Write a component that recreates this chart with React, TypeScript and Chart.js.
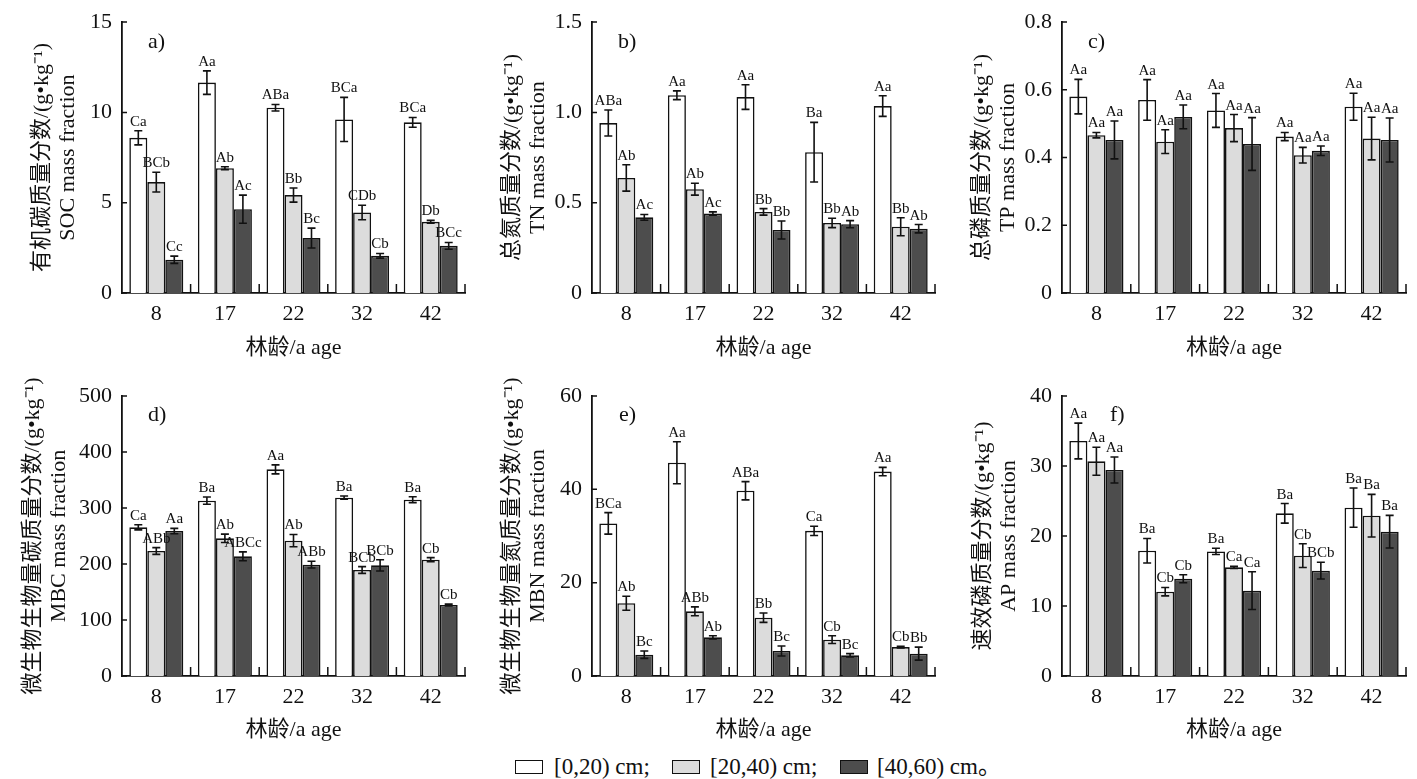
import { useEffect, useRef } from 'react'
import { Chart, BarController, BarElement, CategoryScale, LinearScale } from 'chart.js'

Chart.register(BarController, BarElement, CategoryScale, LinearScale);

const FONT = '"Liberation Serif", "Noto Sans CJK SC", serif';
const INK = '#111111';

const AGES = ['8', '17', '22', '32', '42'];
const DEPTHS = ['[0,20) cm;', '[20,40) cm;', '[40,60) cm。'];
const FILLS = ['#ffffff', '#dcdcdc', '#4d4d4d'];

// a) SOC
const SOC_MEAN = [
  [8.59, 11.65, 10.26, 9.61, 9.45],
  [6.14, 6.91, 5.42, 4.46, 3.94],
  [1.84, 4.64, 3.04, 2.06, 2.61],
];
const SOC_ERR = [
  [0.39, 0.65, 0.18, 1.22, 0.27],
  [0.55, 0.08, 0.39, 0.4, 0.08],
  [0.2, 0.78, 0.55, 0.13, 0.19],
];
const SOC_LETTERS = [
  ['Ca', 'Aa', 'ABa', 'BCa', 'BCa'],
  ['BCb', 'Ab', 'Bb', 'CDb', 'Db'],
  ['Cc', 'Ac', 'Bc', 'Cb', 'BCc'],
];
const SOC_TICKS = ['0', '5', '10', '15'];

// b) TN
const TN_MEAN = [
  [0.941, 1.095, 1.085, 0.78, 1.035],
  [0.637, 0.575, 0.449, 0.388, 0.367],
  [0.419, 0.44, 0.349, 0.381, 0.356],
];
const TN_ERR = [
  [0.072, 0.024, 0.068, 0.165, 0.057],
  [0.073, 0.033, 0.018, 0.026, 0.05],
  [0.016, 0.009, 0.05, 0.02, 0.023],
];
const TN_LETTERS = [
  ['ABa', 'Aa', 'Aa', 'Ba', 'Aa'],
  ['Ab', 'Ab', 'Bb', 'Bb', 'Bb'],
  ['Ac', 'Ac', 'Bb', 'Ab', 'Ab'],
];
const TN_TICKS = ['0', '0.5', '1.0', '1.5'];

// c) TP
const TP_MEAN = [
  [0.58, 0.57, 0.539, 0.462, 0.55],
  [0.466, 0.447, 0.487, 0.407, 0.456],
  [0.452, 0.52, 0.44, 0.42, 0.452],
];
const TP_ERR = [
  [0.051, 0.06, 0.05, 0.012, 0.04],
  [0.008, 0.035, 0.04, 0.023, 0.063],
  [0.056, 0.035, 0.078, 0.014, 0.065],
];
const TP_LETTERS = [
  ['Aa', 'Aa', 'Aa', 'Aa', 'Aa'],
  ['Aa', 'Aa', 'Aa', 'Aa', 'Aa'],
  ['Aa', 'Aa', 'Aa', 'Aa', 'Aa'],
];
const TP_TICKS = ['0', '0.2', '0.4', '0.6', '0.8'];

// d) MBC
const MBC_MEAN = [
  [265.5, 313.1, 369, 318.5, 314.9],
  [223.2, 245.8, 241.7, 189.3, 207.7],
  [258.9, 213.7, 198.8, 197.6, 126.8],
];
const MBC_ERR = [
  [4.5, 6.5, 8, 3, 5.3],
  [6, 7.5, 11, 6, 3.6],
  [4.8, 8, 6, 10, 1.5],
];
const MBC_LETTERS = [
  ['Ca', 'Ba', 'Aa', 'Ba', 'Ba'],
  ['ABb', 'Ab', 'Ab', 'BCb', 'Cb'],
  ['Aa', 'ABCc', 'ABb', 'BCb', 'Cb'],
];
const MBC_TICKS = ['0', '100', '200', '300', '400', '500'];

// e) MBN
const MBN_MEAN = [
  [32.7, 45.7, 39.7, 31.1, 43.8],
  [15.6, 13.86, 12.5, 7.79, 6.2],
  [4.57, 8.29, 5.36, 4.43, 4.79],
];
const MBN_ERR = [
  [2.3, 4.5, 1.95, 1.0, 0.9],
  [1.5, 0.95, 1.0, 0.82, 0.18],
  [0.8, 0.35, 1.07, 0.36, 1.39],
];
const MBN_LETTERS = [
  ['BCa', 'Aa', 'ABa', 'Ca', 'Aa'],
  ['Ab', 'ABb', 'Bb', 'Cb', 'Cb'],
  ['Bc', 'Ab', 'Bc', 'Bc', 'Bb'],
];
const MBN_TICKS = ['0', '20', '40', '60'];

// f) AP
const AP_MEAN = [
  [33.57, 17.9, 17.8, 23.24, 24.05],
  [30.67, 12.05, 15.52, 17.19, 22.9],
  [29.43, 13.9, 12.19, 15.05, 20.62],
];
const AP_ERR = [
  [2.55, 1.75, 0.45, 1.4, 2.8],
  [2.0, 0.6, 0.15, 1.7, 3.05],
  [1.86, 0.57, 2.7, 1.2, 2.33],
];
const AP_LETTERS = [
  ['Aa', 'Ba', 'Ba', 'Ba', 'Ba'],
  ['Aa', 'Cb', 'Ca', 'Cb', 'Ba'],
  ['Aa', 'Cb', 'Ca', 'BCb', 'Ba'],
];
const AP_TICKS = ['0', '10', '20', '30', '40'];

interface PanelSpec {
  tag: string;
  yTitle: string[];
  mean: number[][];
  err: number[][];
  letters: string[][];
  ticks: string[];
  max: number;
  step: number;
  x: number;
  y: number;
  w: number;
  h: number;
  padTop: number;
  padRight: number;
  yTitlePad: number;
  xTitlePad: number;
  tagDx: number;
  tagDy: number;
}

const TOP = { y: 0, h: 365, padTop: 13, xTitlePad: 4, tagDy: 20 };
const BOTTOM = { y: 340, h: 408, padTop: 56, xTitlePad: 5, tagDy: 19 };

const PANELS: PanelSpec[] = [
  { ...TOP, tag: 'a)', yTitle: ['有机碳质量分数/(g•kg⁻¹)', 'SOC mass fraction'], mean: SOC_MEAN, err: SOC_ERR, letters: SOC_LETTERS, ticks: SOC_TICKS, max: 15, step: 5, x: 0, w: 470, padRight: 5, yTitlePad: 29, tagDx: 26 },
  { ...TOP, tag: 'b)', yTitle: ['总氮质量分数/(g•kg⁻¹)', 'TN mass fraction'], mean: TN_MEAN, err: TN_ERR, letters: TN_LETTERS, ticks: TN_TICKS, max: 1.5, step: 0.5, x: 470, w: 470, padRight: 5, yTitlePad: 29, tagDx: 26 },
  { ...TOP, tag: 'c)', yTitle: ['总磷质量分数/(g•kg⁻¹)', 'TP mass fraction'], mean: TP_MEAN, err: TP_ERR, letters: TP_LETTERS, ticks: TP_TICKS, max: 0.8, step: 0.2, x: 940, w: 477, padRight: 11, yTitlePad: 29, tagDx: 26 },
  { ...BOTTOM, tag: 'd)', yTitle: ['微生物生物量碳质量分数/(g•kg⁻¹)', 'MBC mass fraction'], mean: MBC_MEAN, err: MBC_ERR, letters: MBC_LETTERS, ticks: MBC_TICKS, max: 500, step: 100, x: 0, w: 470, padRight: 5, yTitlePad: 20, tagDx: 26 },
  { ...BOTTOM, tag: 'e)', yTitle: ['微生物生物量氮质量分数/(g•kg⁻¹)', 'MBN mass fraction'], mean: MBN_MEAN, err: MBN_ERR, letters: MBN_LETTERS, ticks: MBN_TICKS, max: 60, step: 20, x: 470, w: 470, padRight: 5, yTitlePad: 29, tagDx: 27 },
  { ...BOTTOM, tag: 'f)', yTitle: ['速效磷质量分数/(g•kg⁻¹)', 'AP mass fraction'], mean: AP_MEAN, err: AP_ERR, letters: AP_LETTERS, ticks: AP_TICKS, max: 40, step: 10, x: 940, w: 477, padRight: 11, yTitlePad: 30, tagDx: 48 },
];

function BarPanel({ p }: { p: PanelSpec }) {
  const ref = useRef<HTMLCanvasElement>(null);

  useEffect(() => {
    if (!ref.current) return;

    // error bars + significance letters
    const marks = {
      id: 'marks',
      afterDatasetsDraw(chart: Chart) {
        const { ctx } = chart;
        const ys = chart.scales.y;
        ctx.save();
        ctx.strokeStyle = INK;
        ctx.fillStyle = INK;
        ctx.lineWidth = 1.6;
        ctx.font = `15px ${FONT}`;
        ctx.textAlign = 'center';
        ctx.textBaseline = 'alphabetic';
        chart.data.datasets.forEach((ds: any, i) => {
          chart.getDatasetMeta(i).data.forEach((bar: any, j) => {
            const v = ds.data[j] as number;
            const e = ds.errors[j] as number;
            const hi = ys.getPixelForValue(v + e);
            const lo = ys.getPixelForValue(v - e);
            ctx.beginPath();
            ctx.moveTo(bar.x, hi); ctx.lineTo(bar.x, lo);
            ctx.moveTo(bar.x - 4, hi); ctx.lineTo(bar.x + 4, hi);
            ctx.moveTo(bar.x - 4, lo); ctx.lineTo(bar.x + 4, lo);
            ctx.stroke();
            ctx.fillText(ds.letters[j], bar.x, hi - 5);
          });
        });
        ctx.restore();
      },
      afterDraw(chart: Chart) {
        const { ctx, chartArea } = chart;
        const { left, right, top, bottom } = chartArea;
        const ys = chart.scales.y;
        ctx.save();
        ctx.strokeStyle = INK;
        ctx.lineWidth = 1.5;
        ctx.beginPath();
        ys.ticks.forEach((t) => {
          const y = ys.getPixelForValue(t.value);
          ctx.moveTo(left, y); ctx.lineTo(left + 5, y);
        });
        const n = AGES.length;
        const w = (right - left) / n;
        for (let i = 1; i <= n; i++) {
          const x = left + i * w;
          ctx.moveTo(x, bottom); ctx.lineTo(x, bottom - 9);
        }
        ctx.stroke();
        ctx.fillStyle = INK;
        ctx.font = `22px ${FONT}`;
        ctx.textAlign = 'left';
        ctx.textBaseline = 'middle';
        ctx.fillText(p.tag, left + p.tagDx, top + p.tagDy);
        ctx.restore();
      },
    };

    const chart = new Chart(ref.current, {
      type: 'bar',
      data: {
        labels: AGES,
        datasets: p.mean.map((m, i) => ({
          label: DEPTHS[i],
          data: m,
          errors: p.err[i],
          letters: p.letters[i],
          backgroundColor: FILLS[i],
          borderColor: INK,
          borderWidth: 1.6,
          categoryPercentage: 0.787,
          barPercentage: 1,
        })) as any,
      },
      options: {
        animation: false,
        responsive: false,
        events: [],
        layout: { padding: { left: 0, right: p.padRight, top: p.padTop, bottom: 0 } },
        plugins: { legend: { display: false }, tooltip: { enabled: false } },
        scales: {
          x: {
            offset: true,
            z: 1,
            grid: { display: false, drawTicks: false },
            border: { display: true, color: INK, width: 1.8 },
            ticks: { color: INK, font: { family: FONT, size: 22, lineHeight: 1.1 }, padding: 9, maxRotation: 0, autoSkip: false },
            title: { display: true, text: '林龄/a age', color: INK, font: { family: FONT, size: 22, lineHeight: 1.2 }, padding: { top: 0, bottom: p.xTitlePad } },
            afterFit: (s: any) => { s.height = 72; },
          },
          y: {
            min: 0,
            max: p.max,
            z: 1,
            grid: { display: false, drawTicks: false },
            border: { display: true, color: INK, width: 1.8 },
            ticks: {
              stepSize: p.step,
              color: INK,
              padding: 10,
              font: { family: FONT, size: 22, lineHeight: 1.1 },
              callback: (_v: any, i: number) => p.ticks[i] ?? '',
            },
            title: { display: true, text: p.yTitle, color: INK, font: { family: FONT, size: 22, lineHeight: 26 / 22 }, padding: { top: p.yTitlePad, bottom: 0 } },
            afterFit: (s: any) => { s.width = 122; },
          },
        },
      },
      plugins: [marks],
    });

    return () => chart.destroy();
  }, [p]);

  return (
    <canvas
      ref={ref}
      width={p.w}
      height={p.h}
      style={{ position: 'absolute', left: p.x, top: p.y, width: p.w, height: p.h }}
    />
  );
}

const LEGEND_BOX_X = [515, 672, 840];
const LEGEND_TEXT_X = [554, 710, 877];

export default function App() {
  return (
    <div style={{ position: 'absolute', left: 0, top: 0, width: 1417, height: 779, background: '#fff', overflow: 'hidden', fontFamily: FONT, color: INK }}>
      {PANELS.map((p) => <BarPanel key={p.tag} p={p} />)}
      {DEPTHS.map((d, i) => (
        <div key={d}>
          <div style={{ position: 'absolute', left: LEGEND_BOX_X[i], top: 760, width: 28, height: 14, boxSizing: 'border-box', border: `1.5px solid ${INK}`, background: FILLS[i] }} />
          <div style={{ position: 'absolute', left: LEGEND_TEXT_X[i], top: 752, fontSize: 23, lineHeight: '30px', whiteSpace: 'nowrap' }}>{d}</div>
        </div>
      ))}
    </div>
  );
}
